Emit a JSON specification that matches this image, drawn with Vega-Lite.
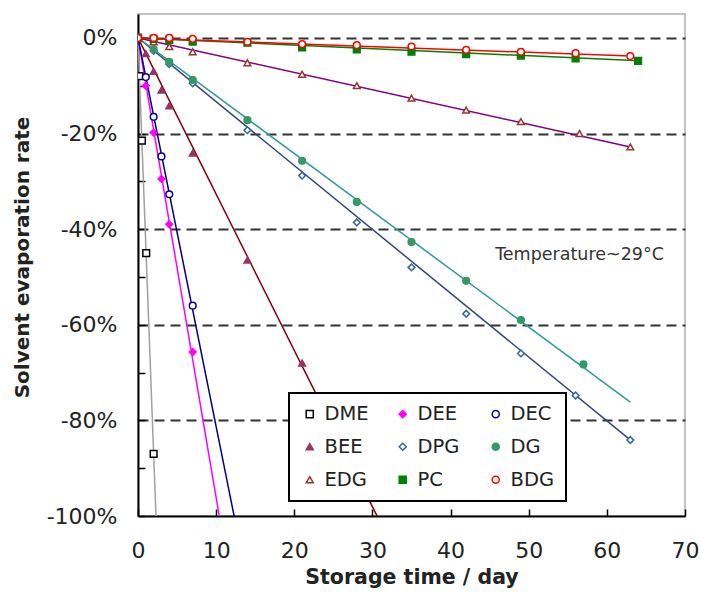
{
  "$schema": "https://vega.github.io/schema/vega-lite/v6.json",
  "width": 547,
  "height": 502,
  "autosize": {"type": "none"},
  "padding": {"left": 138, "top": 14, "right": 16, "bottom": 76},
  "background": "white",
  "config": {
    "view": {"stroke": "#b0b0b0", "strokeWidth": 1.5},
    "font": "DejaVu Sans",
    "legend": {
      "orient": "none", "legendX": 151, "legendY": 379, "direction": "horizontal",
      "columns": 3, "gridAlign": "all", "columnPadding": 24, "rowPadding": 12,
      "strokeColor": "black", "strokeWidth": 2, "fillColor": "white", "padding": 11,
      "labelFontSize": 19.5, "labelColor": "#222", "labelOffset": 5,
      "symbolSize": 50, "symbolStrokeWidth": 1.5
    }
  },
  "datasets": {
    "fits": [
      {"series": "DME", "day": 0, "rate": 0}, {"series": "DME", "day": 2.3, "rate": -100},
      {"series": "DEE", "day": 0, "rate": 0}, {"series": "DEE", "day": 10.4, "rate": -100},
      {"series": "DEC", "day": 0, "rate": 0}, {"series": "DEC", "day": 12.3, "rate": -100},
      {"series": "BEE", "day": 0, "rate": 0}, {"series": "BEE", "day": 30.6, "rate": -100},
      {"series": "DPG", "day": 0, "rate": 0}, {"series": "DPG", "day": 63.3, "rate": -84.5},
      {"series": "DG", "day": 0, "rate": 0}, {"series": "DG", "day": 63, "rate": -76.2},
      {"series": "EDG", "day": 0, "rate": 0}, {"series": "EDG", "day": 63, "rate": -22.8},
      {"series": "PC", "day": 0, "rate": 0}, {"series": "PC", "day": 64.2, "rate": -4.8},
      {"series": "BDG", "day": 0, "rate": 0}, {"series": "BDG", "day": 63, "rate": -3.8}
    ],
    "points": [
      {"series": "DME", "day": 0, "rate": 0}, {"series": "DME", "day": 0.17, "rate": -8}, {"series": "DME", "day": 0.5, "rate": -21.5}, {"series": "DME", "day": 1.05, "rate": -45}, {"series": "DME", "day": 2, "rate": -87},
      {"series": "DEE", "day": 0, "rate": 0}, {"series": "DEE", "day": 1, "rate": -10}, {"series": "DEE", "day": 2, "rate": -19.8}, {"series": "DEE", "day": 3, "rate": -29.5}, {"series": "DEE", "day": 4, "rate": -39}, {"series": "DEE", "day": 7, "rate": -65.7},
      {"series": "DEC", "day": 0, "rate": 0}, {"series": "DEC", "day": 1, "rate": -8.2}, {"series": "DEC", "day": 2, "rate": -16.5}, {"series": "DEC", "day": 3, "rate": -24.8}, {"series": "DEC", "day": 4, "rate": -32.7}, {"series": "DEC", "day": 7, "rate": -56},
      {"series": "BEE", "day": 0, "rate": 0}, {"series": "BEE", "day": 1, "rate": -3.3}, {"series": "BEE", "day": 2, "rate": -7}, {"series": "BEE", "day": 3, "rate": -10.9}, {"series": "BEE", "day": 4, "rate": -14.2}, {"series": "BEE", "day": 7, "rate": -24.1}, {"series": "BEE", "day": 14, "rate": -46.5}, {"series": "BEE", "day": 21, "rate": -68},
      {"series": "DPG", "day": 0, "rate": 0}, {"series": "DPG", "day": 2, "rate": -2.7}, {"series": "DPG", "day": 4, "rate": -5.5}, {"series": "DPG", "day": 7, "rate": -9.5}, {"series": "DPG", "day": 14, "rate": -19.3}, {"series": "DPG", "day": 21, "rate": -28.8}, {"series": "DPG", "day": 28, "rate": -38.6}, {"series": "DPG", "day": 35, "rate": -48}, {"series": "DPG", "day": 42, "rate": -57.7}, {"series": "DPG", "day": 49, "rate": -66}, {"series": "DPG", "day": 56, "rate": -74.8}, {"series": "DPG", "day": 63, "rate": -84.1},
      {"series": "DG", "day": 0, "rate": 0}, {"series": "DG", "day": 2, "rate": -2.4}, {"series": "DG", "day": 4, "rate": -5}, {"series": "DG", "day": 7, "rate": -8.8}, {"series": "DG", "day": 14, "rate": -17.2}, {"series": "DG", "day": 21, "rate": -25.7}, {"series": "DG", "day": 28, "rate": -34.3}, {"series": "DG", "day": 35, "rate": -42.7}, {"series": "DG", "day": 42, "rate": -50.8}, {"series": "DG", "day": 49, "rate": -59}, {"series": "DG", "day": 57, "rate": -68.3},
      {"series": "EDG", "day": 0, "rate": 0}, {"series": "EDG", "day": 2, "rate": -0.8}, {"series": "EDG", "day": 4, "rate": -1.8}, {"series": "EDG", "day": 7, "rate": -2.9}, {"series": "EDG", "day": 14, "rate": -5.2}, {"series": "EDG", "day": 21, "rate": -7.6}, {"series": "EDG", "day": 28, "rate": -10}, {"series": "EDG", "day": 35, "rate": -12.6}, {"series": "EDG", "day": 42, "rate": -15.1}, {"series": "EDG", "day": 49, "rate": -17.5}, {"series": "EDG", "day": 56.5, "rate": -20}, {"series": "EDG", "day": 63, "rate": -22.8},
      {"series": "PC", "day": 0, "rate": 0}, {"series": "PC", "day": 2, "rate": -0.2}, {"series": "PC", "day": 4, "rate": -0.4}, {"series": "PC", "day": 7, "rate": -0.8}, {"series": "PC", "day": 14, "rate": -1}, {"series": "PC", "day": 21, "rate": -2}, {"series": "PC", "day": 28, "rate": -2.4}, {"series": "PC", "day": 35, "rate": -2.9}, {"series": "PC", "day": 42, "rate": -3.4}, {"series": "PC", "day": 49, "rate": -3.7}, {"series": "PC", "day": 56, "rate": -4.3}, {"series": "PC", "day": 64, "rate": -4.8},
      {"series": "BDG", "day": 0, "rate": 0}, {"series": "BDG", "day": 2, "rate": 0}, {"series": "BDG", "day": 4, "rate": 0}, {"series": "BDG", "day": 7, "rate": -0.2}, {"series": "BDG", "day": 14, "rate": -0.8}, {"series": "BDG", "day": 21, "rate": -1.3}, {"series": "BDG", "day": 28, "rate": -1.5}, {"series": "BDG", "day": 35, "rate": -1.8}, {"series": "BDG", "day": 42, "rate": -2.5}, {"series": "BDG", "day": 49, "rate": -2.9}, {"series": "BDG", "day": 56, "rate": -3.2}, {"series": "BDG", "day": 63, "rate": -3.8}
    ]
  },
  "layer": [
    {
      "data": {"name": "fits"},
      "mark": {"type": "line", "strokeWidth": 1.5, "clip": true},
      "encoding": {
        "x": {
          "field": "day", "type": "quantitative",
          "scale": {"domain": [0, 70], "nice": false, "zero": false},
          "axis": {
            "title": "Storage time / day",
            "values": [0, 5, 10, 15, 20, 25, 30, 35, 40, 45, 50, 55, 60, 65, 70],
            "labelExpr": "datum.value % 10 == 0 ? datum.label : ''",
            "grid": false,
            "domainColor": "black", "domainWidth": 2,
            "tickColor": "black", "tickWidth": 1.5, "tickSize": -7,
            "labelPadding": 31, "labelFontSize": 22, "labelColor": "#222", "labelFlush": false, "labelOverlap": false,
            "titleFontSize": 20.5, "titleFontWeight": "bold", "titleColor": "#222", "titlePadding": 6
          }
        },
        "y": {
          "field": "rate", "type": "quantitative",
          "scale": {"domain": [-100, 5], "nice": false, "zero": false},
          "axis": {
            "title": "Solvent evaporation rate",
            "titleY": 243,
            "values": [-100, -95, -90, -85, -80, -75, -70, -65, -60, -55, -50, -45, -40, -35, -30, -25, -20, -15, -10, -5, 0],
            "labelExpr": "datum.value % 20 == 0 ? datum.value + '%' : ''",
            "grid": true,
            "gridColor": "#333333", "gridWidth": 2, "gridDash": [10, 6],
            "gridOpacity": {"condition": {"test": "datum.value % 20 == 0 && datum.value > -100", "value": 1}, "value": 0},
            "domainColor": "black", "domainWidth": 2,
            "tickColor": "black", "tickWidth": 1.5, "tickSize": -7,
            "labelPadding": 28, "labelFontSize": 22, "labelColor": "#222", "labelOverlap": false,
            "titleFontSize": 20, "titleFontWeight": "bold", "titleColor": "#222", "titlePadding": 14
          }
        },
        "color": {
          "field": "series", "type": "nominal",
          "scale": {
            "domain": ["BDG", "BEE", "DEC", "DEE", "DG", "DME", "DPG", "EDG", "PC"],
            "range": ["#ff0000", "#800000", "#000080", "#ff00ff", "#339999", "#a0a0a0", "#334477", "#800080", "#008000"]
          },
          "legend": null
        },
        "order": {"field": "day", "type": "quantitative"}
      }
    },
    {
      "data": {"name": "points"},
      "mark": {"type": "point", "strokeWidth": 1.5, "size": 45, "opacity": 1, "fillOpacity": 1, "clip": true},
      "encoding": {
        "x": {"field": "day", "type": "quantitative"},
        "y": {"field": "rate", "type": "quantitative"},
        "shape": {
          "field": "series", "type": "nominal",
          "scale": {
            "domain": ["DME", "DEE", "DEC", "BEE", "DPG", "DG", "EDG", "PC", "BDG"],
            "range": ["square", "diamond", "circle", "triangle-up", "diamond", "circle", "triangle-up", "square", "circle"]
          },
          "legend": {"title": null}
        },
        "stroke": {
          "field": "series", "type": "nominal",
          "scale": {
            "domain": ["DME", "DEE", "DEC", "BEE", "DPG", "DG", "EDG", "PC", "BDG"],
            "range": ["#000000", "#ff00ff", "#000099", "#993366", "#336699", "#339966", "#993333", "#008000", "#ff0000"]
          },
          "legend": {"title": null}
        },
        "fill": {
          "field": "series", "type": "nominal",
          "scale": {
            "domain": ["DME", "DEE", "DEC", "BEE", "DPG", "DG", "EDG", "PC", "BDG"],
            "range": ["#ffffff", "#ff00ff", "#ffffff", "#993366", "#ffffff", "#339966", "#ffffff", "#008000", "#ffffff"]
          },
          "legend": {"title": null}
        }
      }
    },
    {
      "data": {"values": [{}]},
      "mark": {"type": "text", "fontSize": 17.5, "color": "#333333", "align": "center", "baseline": "middle"},
      "encoding": {
        "x": {"datum": 56.5, "type": "quantitative"},
        "y": {"datum": -45.4, "type": "quantitative"},
        "text": {"value": "Temperature~29°C"}
      }
    }
  ]
}
